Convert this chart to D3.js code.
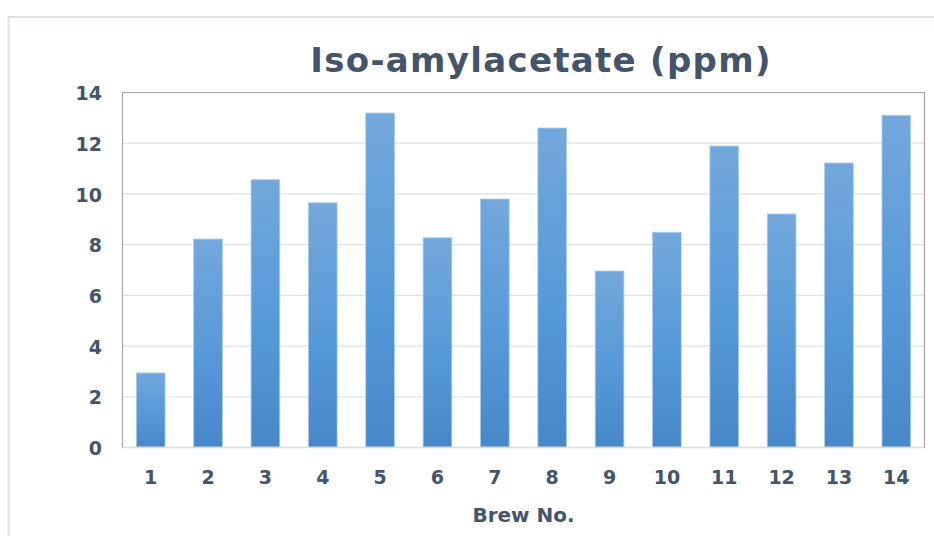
<!DOCTYPE html>
<html>
<head>
<meta charset="utf-8">
<script src="https://cdn.jsdelivr.net/npm/d3@7"></script>
<style>
  body { margin: 0; background: #fff; }
  svg { display: block; }
</style>
</head>
<body>
<div id="chart"></div>
<script>
// data
var brews = ["1", "2", "3", "4", "5", "6", "7", "8", "9", "10", "11", "12", "13", "14"];
var isoAmyl = [2.92, 8.2, 10.54, 9.63, 13.17, 8.25, 9.78, 12.58, 6.94, 8.47, 11.87, 9.19, 11.2, 13.08];
var yTicks = [0, 2, 4, 6, 8, 10, 12, 14];

var W = 934, H = 536;
var margin = { top: 92, right: 9, bottom: 89, left: 122 },
    width = W - margin.left - margin.right,
    height = H - margin.top - margin.bottom;

var textColor = "#44546A";
var font = "'DejaVu Sans', Verdana, sans-serif";

var svg = d3.select("#chart").append("svg")
    .attr("width", W)
    .attr("height", H);

// outer chart frame
svg.append("rect")
    .attr("x", 8.5).attr("y", 17)
    .attr("width", W + 20).attr("height", H + 20)
    .attr("fill", "none")
    .attr("stroke", "#DCE1E8")
    .attr("stroke-width", 2);

var defs = svg.append("defs");
var grad = defs.append("linearGradient")
    .attr("id", "barGrad")
    .attr("x1", 0).attr("y1", 0).attr("x2", 0).attr("y2", 1);
grad.append("stop").attr("offset", "0%").attr("stop-color", "#73A8DC");
grad.append("stop").attr("offset", "55%").attr("stop-color", "#5699D8");
grad.append("stop").attr("offset", "100%").attr("stop-color", "#4788C8");

var g = svg.append("g")
    .attr("transform", "translate(" + margin.left + "," + margin.top + ")");

var x = d3.scaleBand()
    .domain(brews)
    .range([0, width])
    .paddingInner(0.5)
    .paddingOuter(0.25);

var y = d3.scaleLinear()
    .domain([0, 14])
    .range([height, 0]);

// gridlines
g.append("g")
    .selectAll("line")
    .data(yTicks.slice(1, -1))
    .enter().append("line")
    .attr("x1", 0).attr("x2", width)
    .attr("y1", function (d) { return y(d) + 0.5; })
    .attr("y2", function (d) { return y(d) + 0.5; })
    .attr("stroke", "#DDE2EA")
    .attr("stroke-width", 1.2);

// bars
g.append("g")
    .selectAll("rect")
    .data(isoAmyl)
    .enter().append("rect")
    .attr("x", function (d, i) { return x(brews[i]); })
    .attr("y", function (d) { return y(d); })
    .attr("width", x.bandwidth())
    .attr("height", function (d) { return height - y(d); })
    .attr("fill", "url(#barGrad)")
    .attr("stroke", "#A9CBEC")
    .attr("stroke-width", 0.8);

// baseline
g.append("line")
    .attr("x1", 0).attr("x2", width)
    .attr("y1", height + 0.5).attr("y2", height + 0.5)
    .attr("stroke", "#D9DEE6")
    .attr("stroke-width", 1.5);

// plot border: left, top, right
g.append("path")
    .attr("d", "M0.5," + (height + 0.5) + "V0.5H" + (width - 0.5) + "V" + (height + 0.5))
    .attr("fill", "none")
    .attr("stroke", "#A6A6A6")
    .attr("stroke-width", 1.2);

// y axis
var yAxis = g.append("g")
    .call(d3.axisLeft(y).tickValues(yTicks).tickSize(0).tickPadding(20));
yAxis.select(".domain").remove();
yAxis.selectAll("text")
    .attr("fill", textColor)
    .attr("dy", "0.4em")
    .style("font-family", font)
    .style("font-weight", "bold")
    .style("font-size", "19px");

// x axis
var xAxis = g.append("g")
    .attr("transform", "translate(0," + height + ")")
    .call(d3.axisBottom(x).tickSize(0).tickPadding(24));
xAxis.select(".domain").remove();
xAxis.selectAll("text")
    .attr("fill", textColor)
    .style("font-family", font)
    .style("font-weight", "bold")
    .style("font-size", "19px");

// title
svg.append("text")
    .attr("x", 541)
    .attr("y", 72)
    .attr("text-anchor", "middle")
    .attr("fill", textColor)
    .style("font-family", font)
    .style("font-weight", "bold")
    .style("font-size", "34px")
    .style("letter-spacing", "1.3px")
    .text("Iso-amylacetate (ppm)");

// x axis title
svg.append("text")
    .attr("x", margin.left + width / 2)
    .attr("y", 522)
    .attr("text-anchor", "middle")
    .attr("fill", textColor)
    .style("font-family", font)
    .style("font-weight", "bold")
    .style("font-size", "20px")
    .text("Brew No.");
</script>
</body>
</html>
